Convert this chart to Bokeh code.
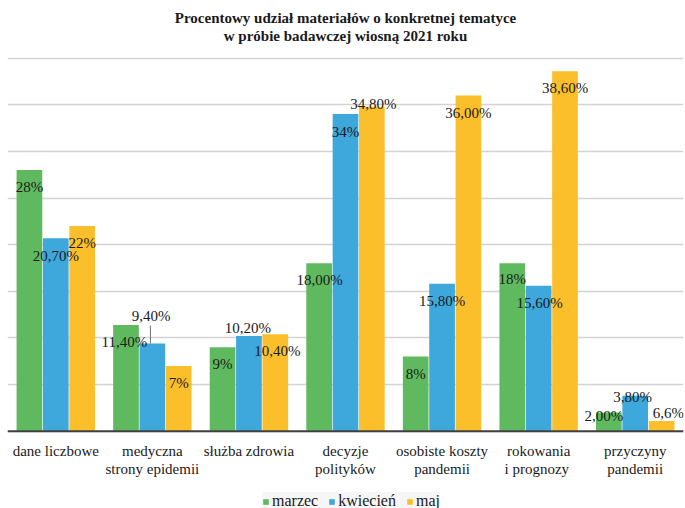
from bokeh.plotting import figure
from bokeh.models import (ColumnDataSource, Legend, LegendItem, Label,
                          FixedTicker, Span)
from bokeh.transform import dodge
from bokeh.core.properties import value
from bokeh.embed import file_html
from bokeh.resources import INLINE

# ---- data ----
categories = ["dane liczbowe", "medyczna\nstrony epidemii", "służba zdrowia",
              "decyzje\npolityków", "osobiste koszty\npandemii",
              "rokowania\ni  prognozy", "przyczyny\npandemii"]
series_names = ["marzec", "kwiecień", "maj"]
marzec = [28, 11.4, 9, 18, 8, 18, 2]
kwiecien = [20.7, 9.4, 10.2, 34, 15.8, 15.6, 3.8]
maj = [22, 7, 10.4, 34.8, 36, 38.6, 1.1]
marzec_labels = ["28%", "11,40%", "9%", "18,00%", "8%", "18%", "2,00%"]
kwiecien_labels = ["20,70%", "9,40%", "10,20%", "34%", "15,80%", "15,60%", "3,80%"]
maj_labels = ["22%", "7%", "10,40%", "34,80%", "36,00%", "38,60%", "6,6%"]
grid_ticks = [0, 5, 10, 15, 20, 25, 30, 35, 40, 45]
title_lines = ["Procentowy udział materiałów o konkretnej tematyce",
               "w próbie badawczej wiosną 2021 roku"]

# ---- styling ----
colors = ["#5fba5f", "#3ea7db", "#fbbf2c"]
offsets = [-0.273, 0.0, 0.273]
bar_w = 0.266
FONT = "Liberation Serif"
TXT = "#1a1a1a"
# label nudges in screen px (dx right, dy down) relative to bar top centre
label_dx = [[0, -1.7, 0, 0.5, 0, 0, -5],
            [0, -1.3, -1, 0, 0, 1, -2.5],
            [0, 0, 2, 1.5, 0, 0, 6.7]]
label_dy = [[17, 17, 17, 17, 17, 16, 3.4],
            [18, -28, -8.5, 18, 17.5, 17, 1.7],
            [17, 17, 17, -3, 17.8, 17, -8.3]]

W, H = 685, 508
top_px, base_px = 11, 430.7
px_per_unit = (base_px - top_px) / 45.0
y_low = -(H - base_px) / px_per_unit

p = figure(x_range=categories, y_range=(y_low, 45), width=W, height=H,
           output_backend="svg", toolbar_location=None,
           min_border_left=7, min_border_right=2, min_border_top=top_px,
           min_border_bottom=0)
p.outline_line_color = None
p.background_fill_color = "white"
p.border_fill_color = "white"
p.xaxis.visible = False
p.yaxis.visible = False
p.xgrid.grid_line_color = None
p.ygrid.ticker = FixedTicker(ticks=grid_ticks)
p.ygrid.grid_line_color = "#d3d3d3"
p.ygrid.grid_line_width = 1.5

all_vals = [marzec, kwiecien, maj]
all_labels = [marzec_labels, kwiecien_labels, maj_labels]
sources, items = [], []
for i, name in enumerate(series_names):
    src = ColumnDataSource(dict(cat=categories, val=all_vals[i],
                                lab=all_labels[i], dx=label_dx[i],
                                dy=label_dy[i]))
    sources.append(src)
    r = p.vbar(x=dodge("cat", offsets[i], range=p.x_range), top="val",
               width=bar_w, source=src, fill_color=colors[i],
               line_color=None)
    items.append(LegendItem(label=name, renderers=[r]))

# baseline (category axis line)
p.add_layout(Span(location=0, dimension="width", line_color="#404040",
                  line_width=2))

for i, src in enumerate(sources):
    p.text(x=dodge("cat", offsets[i], range=p.x_range), y="val", text="lab",
           x_offset="dx", y_offset="dy", source=src,
           text_font=value(FONT), text_font_size="15px", text_color=TXT,
           text_align="center", text_baseline="middle")

# leader line for the moved "9,40%" label
lead_len = 18 / px_per_unit
lsrc = ColumnDataSource(dict(cat=[categories[1]], y0=[kwiecien[1]],
                             y1=[kwiecien[1] + lead_len]))
p.segment(x0=dodge("cat", offsets[1] - 0.02, range=p.x_range), y0="y0",
          x1=dodge("cat", offsets[1] - 0.02, range=p.x_range), y1="y1",
          source=lsrc, line_color="#707070", line_width=1)

# category labels (two lines each), placed on the categorical scale
line1 = [c.split("\n")[0] for c in categories]
line2 = [c.split("\n")[1] if "\n" in c else "" for c in categories]
csrc = ColumnDataSource(dict(cat=categories, l1=line1, l2=line2,
                             base=[0] * len(categories)))
for col, off in (("l1", 20), ("l2", 38)):
    p.text(x="cat", y="base", text=col, y_offset=off, source=csrc,
           text_font=value(FONT), text_font_size="15px", text_color=TXT,
           text_align="center", text_baseline="middle")

# title inside plot area
for k, t in enumerate(title_lines):
    p.add_layout(Label(x=3.5, y=45, y_offset=-6 - 18 * k, text=t,
                       text_font=FONT, text_font_size="15px",
                       text_font_style="bold", text_color=TXT,
                       text_align="center", text_baseline="middle"))

legend = Legend(items=items, orientation="horizontal", location=(255, -2),
                glyph_width=7, glyph_height=7, label_standoff=3, spacing=10,
                padding=2, margin=0, label_height=16,
                label_text_font=FONT, label_text_font_size="16px",
                label_text_color=TXT, background_fill_color="#f6f6f6",
                background_fill_alpha=1, border_line_color=None)
p.add_layout(legend, "center")

open("out.html", "w").write(file_html(p, INLINE))
